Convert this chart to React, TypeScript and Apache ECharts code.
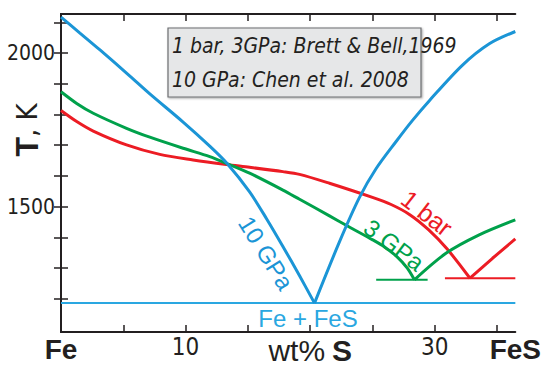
import React, { useEffect, useRef } from "react";
import * as echarts from "echarts";

const X_MIN = 0;
const X_MAX = 36.47;
const Y_MIN = 1092;
const Y_MAX = 2127;

const xTickValues = [5, 10, 15, 20, 25, 30, 35];
const xLabelValues = [0, 10, 20, 30, 36.47];
const xLabelTexts = ["{c|Fe}", "10", "{a|wt%} {b|S}", "30", "{c|FeS}"];
const yTickValues = [1200, 1300, 1400, 1500, 1600, 1700, 1800, 1900, 2000, 2100];
const yLabelValues = [1500, 2000];

// 10 GPa (Chen et al. 2008)
const blueLeft = [
  [0, 2117], [1.52, 2065], [3.13, 2010], [5.53, 1925], [7.13, 1867],
  [9.78, 1776], [11.94, 1697], [13.3, 1642], [15.14, 1548], [16.51, 1460],
  [17.79, 1372], [19.15, 1275], [20.35, 1186],
];
const blueRight = [
  [20.35, 1186], [22.36, 1386], [23.96, 1530], [25.3, 1624], [26.9, 1712],
  [28.2, 1780], [29.57, 1845], [32.21, 1960], [34.38, 2030], [36.47, 2070],
];
const blueFlat = [[0, 1186], [36.47, 1186]];

// 3 GPa
const greenLeft = [
  [0, 1874], [1.26, 1836], [2.59, 1804], [5.26, 1755], [7.13, 1726],
  [9.8, 1690], [11.94, 1663], [13.28, 1641], [15.14, 1609], [17.81, 1554],
  [19.15, 1524], [21.55, 1470], [23.0, 1437], [25.02, 1392], [26.0, 1368],
  [27.0, 1336], [27.8, 1300], [28.37, 1262],
];
const greenRight = [[28.37, 1262], [30.9, 1348], [33.57, 1408], [36.47, 1457]];
const greenFlat = [[25.3, 1262], [29.43, 1262]];

// 1 bar
const redLeft = [
  [0, 1813], [1.26, 1777], [2.59, 1746], [5.26, 1701], [7.93, 1670],
  [10.6, 1652], [13.28, 1637], [15.14, 1628], [17.81, 1614], [19.15, 1605],
  [21.55, 1576], [25.0, 1530], [26.5, 1507], [28.0, 1474], [29.5, 1425],
  [31.0, 1362], [32.83, 1267],
];
const redRight = [[32.83, 1267], [34.64, 1332], [36.47, 1395]];
const redFlat = [[30.82, 1267], [36.47, 1267]];

const BLUE = "#1b95d6";
const BLUE_LIGHT = "#2aa7e1";
const GREEN = "#00a14b";
const RED = "#ec1c24";
const DARK = "#231f20";
const NARROW = "'Liberation Sans Narrow', 'DejaVu Sans Condensed', 'Liberation Sans', sans-serif";
const SANS = "'Liberation Sans', 'Noto Sans', sans-serif";

export default function App() {
  const ref = useRef<HTMLDivElement>(null);
  useEffect(() => {
    if (!ref.current) return;
    const chart = echarts.init(ref.current, null, { renderer: "svg" });
    const curve = (data: number[][], color: string, smooth = true, width = 3) => ({
      type: "line",
      data,
      smooth: smooth ? 0.3 : false,
      showSymbol: false,
      symbol: "none",
      lineStyle: { color, width },
      silent: true,
    });
    const xLabelFormatter = (v: number) => {
      const i = xLabelValues.findIndex((u) => Math.abs(u - v) < 1e-6);
      return i >= 0 ? xLabelTexts[i] : "";
    };
    const tickCommon = { inside: true, length: 7, lineStyle: { color: DARK, width: 1.5 } };
    chart.setOption({
      animation: false,
      grid: { left: 61, right: 28, top: 14, bottom: 34 },
      xAxis: [
        {
          type: "value",
          min: X_MIN,
          max: X_MAX,
          position: "bottom",
          splitLine: { show: false },
          axisLine: { lineStyle: { color: DARK, width: 2 } },
          axisTick: { ...tickCommon, customValues: xTickValues },
          axisLabel: {
            customValues: xLabelValues,
            formatter: xLabelFormatter,
            margin: 3,
            color: DARK,
            fontFamily: NARROW,
            fontSize: 24,
            rich: {
              a: { fontFamily: SANS, fontSize: 30, color: DARK },
              b: { fontFamily: SANS, fontSize: 30, fontWeight: "bold", color: DARK },
              c: { fontFamily: SANS, fontSize: 28, fontWeight: "bold", color: DARK },
            },
          },
        },
        {
          type: "value",
          min: X_MIN,
          max: X_MAX,
          position: "top",
          splitLine: { show: false },
          axisLine: { lineStyle: { color: DARK, width: 2 } },
          axisTick: { ...tickCommon, customValues: xTickValues },
          axisLabel: { show: false },
        },
      ],
      yAxis: [
        {
          type: "value",
          min: Y_MIN,
          max: Y_MAX,
          position: "left",
          splitLine: { show: false },
          axisLine: { show: true, lineStyle: { color: DARK, width: 2 } },
          axisTick: { show: true, ...tickCommon, customValues: yTickValues },
          axisLabel: {
            customValues: yLabelValues,
            formatter: (v: number) => String(Math.round(v)),
            margin: 6,
            color: DARK,
            fontFamily: NARROW,
            fontSize: 21,
          },
        },
        {
          type: "value",
          min: Y_MIN,
          max: Y_MAX,
          position: "right",
          splitLine: { show: false },
          axisLine: { show: true, lineStyle: { color: DARK, width: 2 } },
          axisTick: { show: true, ...tickCommon, customValues: yTickValues },
          axisLabel: { show: false },
        },
      ],
      series: [
        curve(blueFlat, BLUE_LIGHT, false, 2),
        curve(greenFlat, GREEN, false, 2),
        curve(redFlat, RED, false, 2),
        curve(redLeft, RED),
        curve(redRight, RED, false),
        curve(greenLeft, GREEN),
        curve(greenRight, GREEN),
        curve(blueLeft, BLUE),
        curve(blueRight, BLUE),
      ],
      graphic: [
        {
          type: "rect",
          shape: { x: 168, y: 28, width: 253, height: 69 },
          style: {
            fill: "#e6e7e8",
            stroke: "#6d6e71",
            lineWidth: 1.2,
            shadowBlur: 2,
            shadowOffsetX: 1,
            shadowOffsetY: 1,
            shadowColor: "rgba(0,0,0,0.35)",
          },
        },
        {
          type: "text",
          x: 172,
          y: 46,
          style: {
            text: "1 bar, 3GPa: Brett & Bell,1969",
            fontFamily: NARROW,
            fontStyle: "italic",
            fontSize: 21,
            fill: DARK,
            verticalAlign: "middle",
          },
        },
        {
          type: "text",
          x: 172,
          y: 80,
          style: {
            text: "10 GPa: Chen et al. 2008",
            fontFamily: NARROW,
            fontStyle: "italic",
            fontSize: 21,
            fill: DARK,
            verticalAlign: "middle",
          },
        },
        {
          type: "text",
          x: 27,
          y: 130,
          rotation: Math.PI / 2,
          style: {
            text: "{t|T}{k|, K}",
            align: "center",
            verticalAlign: "middle",
            rich: {
              t: { fontFamily: SANS, fontWeight: "bold", fontSize: 32, fill: DARK },
              k: { fontFamily: NARROW, fontSize: 29, fill: DARK },
            },
          },
        },
        {
          type: "text",
          x: 266,
          y: 253,
          rotation: (-58 * Math.PI) / 180,
          style: {
            text: "10 GPa",
            fontFamily: SANS,
            fontSize: 24,
            fill: BLUE,
            align: "center",
            verticalAlign: "middle",
          },
        },
        {
          type: "text",
          x: 394,
          y: 245,
          rotation: (-37 * Math.PI) / 180,
          style: {
            text: "3 GPa",
            fontFamily: SANS,
            fontSize: 24,
            fill: GREEN,
            align: "center",
            verticalAlign: "middle",
          },
        },
        {
          type: "text",
          x: 427,
          y: 213,
          rotation: (-38 * Math.PI) / 180,
          style: {
            text: "1 bar",
            fontFamily: SANS,
            fontSize: 25,
            fill: RED,
            align: "center",
            verticalAlign: "middle",
          },
        },
        {
          type: "text",
          x: 308,
          y: 318,
          style: {
            text: "Fe + FeS",
            fontFamily: SANS,
            fontSize: 24,
            fill: BLUE_LIGHT,
            align: "center",
            verticalAlign: "middle",
          },
        },
      ],
    });
    return () => chart.dispose();
  }, []);
  return (
    <div
      ref={ref}
      style={{ position: "fixed", left: 0, top: 0, width: 544, height: 366, background: "#fff" }}
    />
  );
}
